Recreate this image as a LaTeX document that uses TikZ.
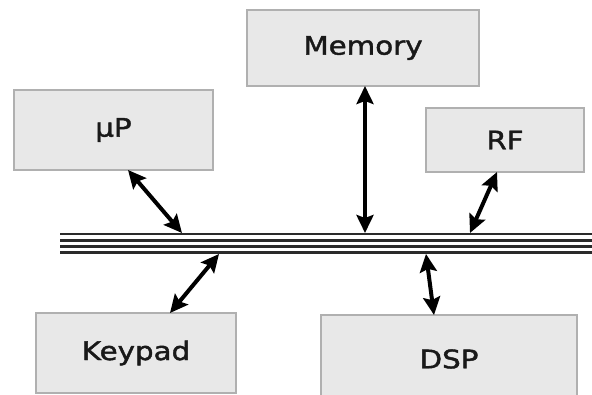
\documentclass[tikz,border=0pt]{standalone}
\usepackage{fontspec}
\setmainfont{DejaVu Sans}[FakeStretch=1.15,FakeBold=1.6]
\usetikzlibrary{arrows.meta}
\definecolor{boxfill}{HTML}{E8E8E8}
\definecolor{boxline}{HTML}{B0B0B0}
\definecolor{busline}{HTML}{2A2A2A}
\tikzset{
  blockbox/.style={draw=boxline, fill=boxfill, line width=1.5pt, rectangle, anchor=north west,
    inner sep=0pt, outer sep=0pt, text=black!90, font=\fontsize{25.5}{27}\selectfont},
  busarrow/.style={line width=4pt, {Stealth[length=18pt,width=17pt,inset=3pt]}-{Stealth[length=18pt,width=17pt,inset=3pt]}},
  buswire/.style={draw=busline, line width=2.9pt}
}
\begin{document}
\begin{tikzpicture}[x=1pt,y=-1pt]
\clip (0,0) rectangle (592,395);
\fill[white] (0,0) rectangle (592,395);
% boxes
\node[blockbox, minimum width=199pt, minimum height=80pt] (mu) at (14,90) {μP};
\node[blockbox, minimum width=232pt, minimum height=76pt] (mem) at (247,10) {Memory};
\node[blockbox, minimum width=158pt, minimum height=64pt] (rf) at (426,108) {RF};
\node[blockbox, minimum width=200pt, minimum height=80pt] (key) at (36,313) {Keypad};
\node[blockbox, minimum width=256pt, minimum height=88pt] (dsp) at (321,315) {DSP};
% bus
\coordinate (busL) at (60,234);
\coordinate (busR) at (600,234);
\foreach \dy in {0,6.1,12.2,18.3} {
  \draw[buswire] ([yshift=-\dy pt]busL) -- ([yshift=-\dy pt]busR);
}
\coordinate (tmu) at (182,233);
\coordinate (tmem) at (365,233);
\coordinate (trf) at (470,233);
\coordinate (bkey) at (219,254);
\coordinate (bdsp) at (426,254);
% connectors
\draw[busarrow] ([xshift=114pt]mu.south west) -- (tmu);
\draw[busarrow] ([xshift=118pt]mem.south west) -- (tmem);
\draw[busarrow] ([xshift=71pt]rf.south west) -- (trf);
\draw[busarrow] ([xshift=134pt]key.north west) -- (bkey);
\draw[busarrow] ([xshift=113pt]dsp.north west) -- (bdsp);
\end{tikzpicture}
\end{document}
